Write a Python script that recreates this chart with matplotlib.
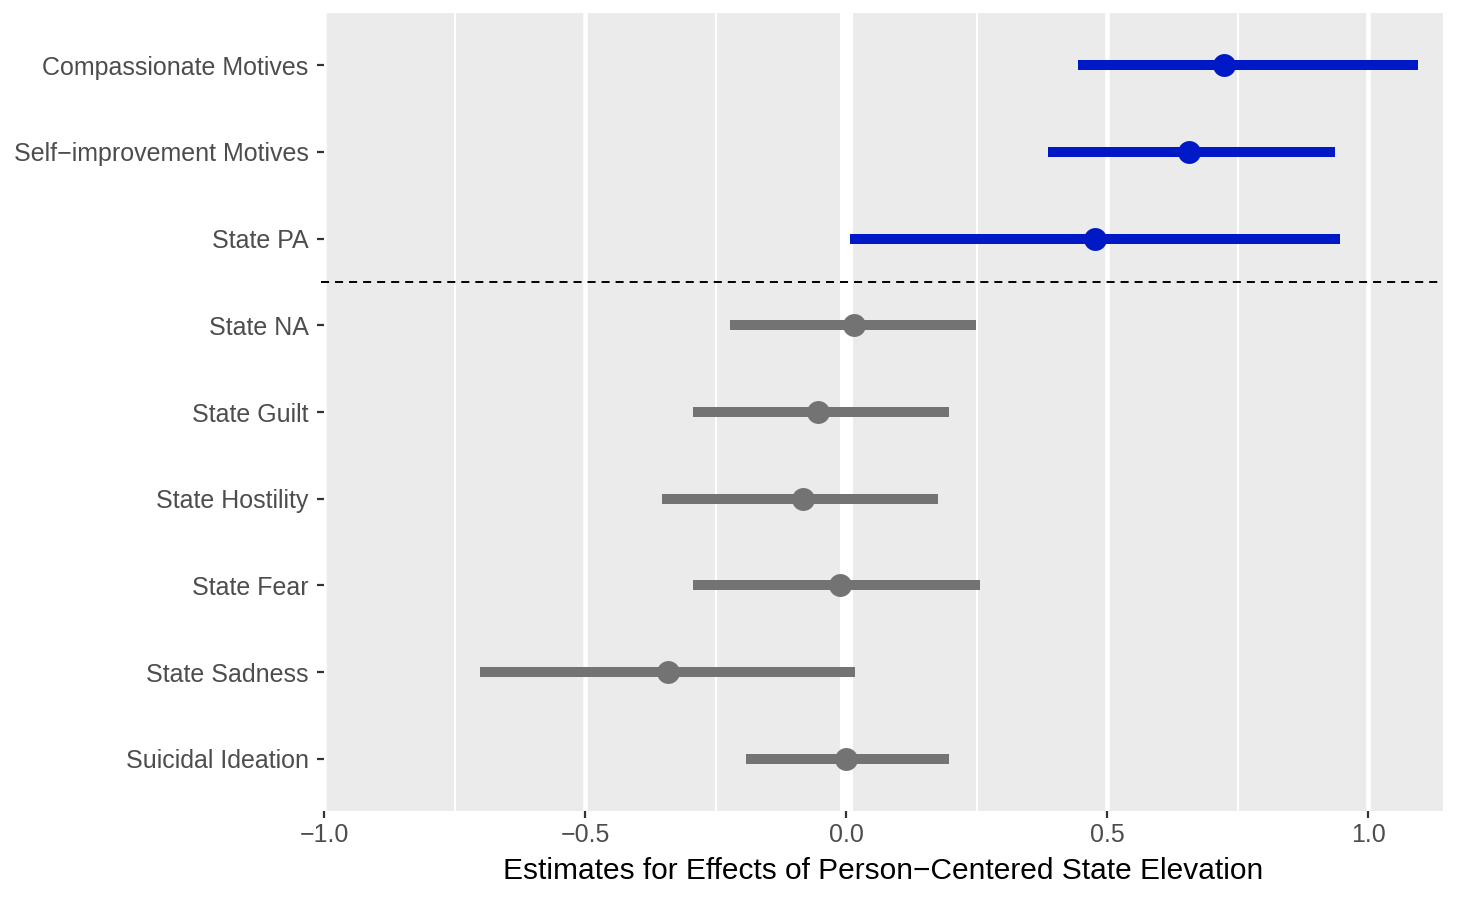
import matplotlib
matplotlib.use("Agg")
import matplotlib.pyplot as plt

plt.rcParams['font.family'] = ['Liberation Sans', 'DejaVu Sans']
plt.rcParams['lines.scale_dashes'] = False

labels = ["Compassionate Motives", "Self\u2212improvement Motives", "State PA",
          "State NA", "State Guilt", "State Hostility", "State Fear",
          "State Sadness", "Suicidal Ideation"]
estimates = [0.724, 0.656, 0.476, 0.016, -0.053, -0.083, -0.012, -0.342, -0.001]
lower = [0.445, 0.386, 0.007, -0.223, -0.294, -0.353, -0.294, -0.701, -0.192]
upper = [1.096, 0.937, 0.946, 0.248, 0.198, 0.177, 0.257, 0.018, 0.198]
significant = [True, True, True, False, False, False, False, False, False]
xticks = [-1.0, -0.5, 0.0, 0.5, 1.0]
xticklabels = ["\u22121.0", "\u22120.5", "0.0", "0.5", "1.0"]
xlabel = "Estimates for Effects of Person\u2212Centered State Elevation"

BLUE = "#0019C6"
GRAY = "#737373"

fig = plt.figure(figsize=(14.59, 9.0), dpi=100)
ax = fig.add_axes([324/1459, 1 - 811/900, (1443-324)/1459, (811-13)/900])
ax.set_facecolor("#EBEBEB")
for s in ax.spines.values():
    s.set_visible(False)

n = len(labels)
ypos = list(range(1, n + 1))
ax.set_xlim(-1.0, 1.1435)
ax.set_ylim(n + 0.6, 0.4)

# grid
for xv in [-0.75, -0.25, 0.25, 0.75]:
    ax.axvline(xv, color="white", lw=1.5, zorder=0.5)
for xv in [-1.0, -0.5, 0.5, 1.0]:
    ax.axvline(xv, color="white", lw=3.3, zorder=0.6)
ax.axvline(0.0, color="white", lw=9.4, zorder=0.7)

for y, e, lo, hi, sig in zip(ypos, estimates, lower, upper, significant):
    c = BLUE if sig else GRAY
    ax.plot([lo, hi], [y, y], color=c, lw=7.2, solid_capstyle="butt", zorder=2)
    ax.plot([e], [y], marker="o", color=c, markersize=16.5, zorder=3, markeredgewidth=0)

ax.plot([-1.005, 1.14], [3.5, 3.5], color="black", lw=1.4, dashes=(5.8, 4.3),
        clip_on=False, zorder=4)

ax.set_yticks(ypos)
ax.set_yticklabels(labels, fontsize=18, color="#4D4D4D")
ax.set_xticks(xticks)
ax.set_xticklabels(xticklabels, fontsize=18, color="#4D4D4D")
ax.tick_params(axis="y", length=5, width=1.6, color="#333333", pad=6)
ax.tick_params(axis="x", length=5, width=1.6, color="#333333", pad=3.5)
ax.set_xlabel(xlabel, fontsize=21.5, color="black", labelpad=7)

fig.savefig("out.png", dpi=100)
